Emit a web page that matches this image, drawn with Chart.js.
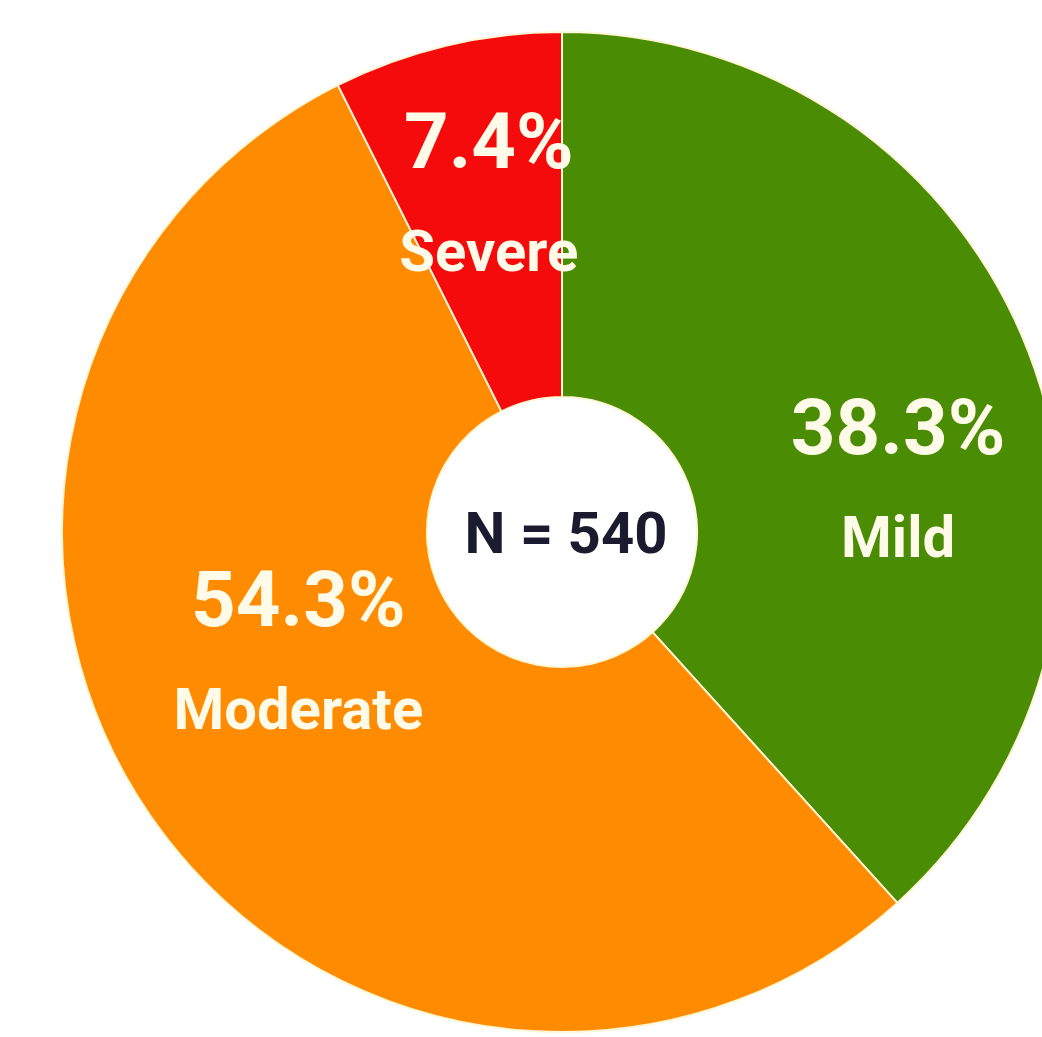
<!DOCTYPE html>
<html>
<head>
<meta charset="utf-8">
<script src="https://cdn.jsdelivr.net/npm/chart.js@4.4.1/dist/chart.umd.min.js"></script>
<style>
  html, body { margin: 0; padding: 0; background: #fff; overflow: hidden; width: 1042px; height: 1037px; }
  .chart-wrap { position: absolute; left: 61px; top: 31px; width: 1002px; height: 1002px; }
</style>
</head>
<body>
<div class="chart-wrap"><canvas id="severityChart"></canvas></div>
<script>
// Severity split (percent of patients)
const categories = ["Mild", "Moderate", "Severe"];
const shares = [38.3, 54.3, 7.4];
const sampleSize = 540;

const sliceColors = ["#4a8d05", "#ff8c00", "#f50b0b"];

// where each label block sits: fraction along the slice angle, fraction of outer radius
const labelSpots = [
  { along: 0.59, out: 0.68 },
  { along: 0.55, out: 0.58 },
  { along: 0.54, out: 0.69 },
];

// draws "xx.x%" + category name inside each slice, and N in the hole
const sliceLabels = {
  id: "sliceLabels",
  afterDatasetsDraw(chart) {
    const ctx = chart.ctx;
    const arcs = chart.getDatasetMeta(0).data;
    ctx.save();
    ctx.textAlign = "center";
    ctx.textBaseline = "alphabetic";
    ctx.fillStyle = "#fffbe8";
    arcs.forEach((arc, i) => {
      const spot = labelSpots[i];
      const a = arc.startAngle + (arc.endAngle - arc.startAngle) * spot.along;
      const r = arc.outerRadius * spot.out;
      const x = arc.x + Math.cos(a) * r;
      const y = arc.y + Math.sin(a) * r;
      ctx.font = "bold 78px Roboto";
      ctx.fillText(shares[i].toFixed(1) + "%", x, y - 27);
      ctx.font = "bold 58px Roboto";
      ctx.fillText(categories[i], x, y + 76);
    });
    const c = arcs[0];
    ctx.fillStyle = "#1b1b2f";
    ctx.font = "bold 58px Roboto";
    ctx.fillText("N = " + sampleSize, c.x + 4, c.y + 21);
    ctx.restore();
  },
};

const data = {
  labels: categories,
  datasets: [
    {
      data: shares,
      backgroundColor: sliceColors,
      borderColor: "#fff6d6",
      borderWidth: 2,
    },
  ],
};

new Chart(document.getElementById("severityChart"), {
  type: "doughnut",
  data,
  options: {
    responsive: true,
    maintainAspectRatio: false,
    animation: false,
    cutout: "27%",
    layout: { padding: 0 },
    plugins: {
      legend: { display: false },
      tooltip: { enabled: false },
    },
  },
  plugins: [sliceLabels],
});
</script>
</body>
</html>
